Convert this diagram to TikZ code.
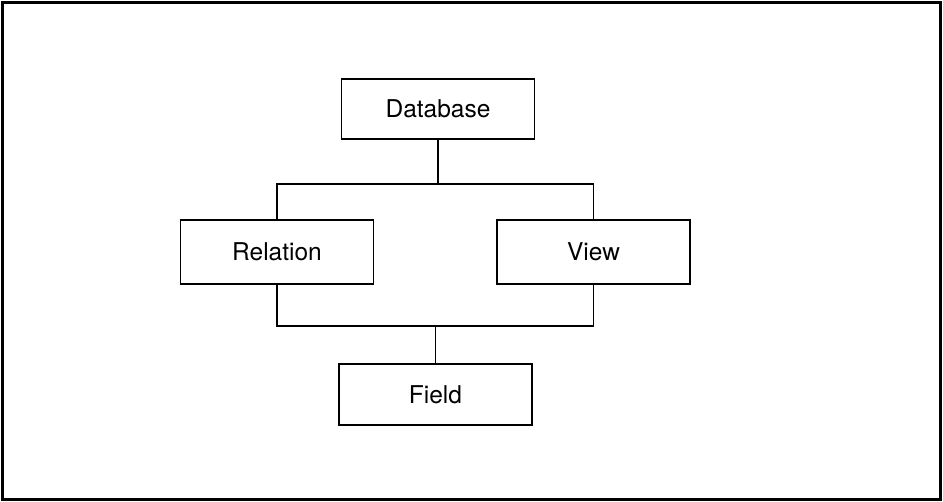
\documentclass[tikz,border=0pt]{standalone}
\usepackage{fontspec}
\setmainfont{TeX Gyre Heros}
\begin{document}
\begin{tikzpicture}[x=1pt,y=-1pt,
  entity/.style={draw=black, line width=1.6pt, fill=white, inner sep=0pt,
    minimum width=193pt, minimum height=62pt,
    font=\fontsize{24.5}{29}\selectfont},
  link/.style={draw=black, line width=1.3pt},
  frame/.style={draw=black, line width=2.2pt}]
  \useasboundingbox (0,0) rectangle (943,502);
  \draw[frame] (2.5,2.5) rectangle (940.5,499.5);

  % entity boxes
  \node[entity, minimum height=60pt] (db)    at (438,109)   {Database};
  \node[entity, minimum height=64pt] (rel)   at (277,252)   {Relation};
  \node[entity, minimum height=64pt] (view)  at (593.5,252) {View};
  \node[entity, minimum height=61pt] (field) at (435.5,394.5) {Field};

  % junction points of the two bus lines
  \coordinate (jtop) at (438,184);
  \coordinate (jbot) at (435.5,326);

  % Database fans out to Relation and View
  \draw[link] (db.south) -- (jtop);
  \draw[link] (rel.north) -- (rel.north |- jtop) -- (view.north |- jtop) -- (view.north);

  % Relation and View join into Field
  \draw[link] (rel.south) -- (rel.south |- jbot) -- (view.south |- jbot) -- (view.south);
  \draw[link] (jbot) -- (field.north);
\end{tikzpicture}
\end{document}
